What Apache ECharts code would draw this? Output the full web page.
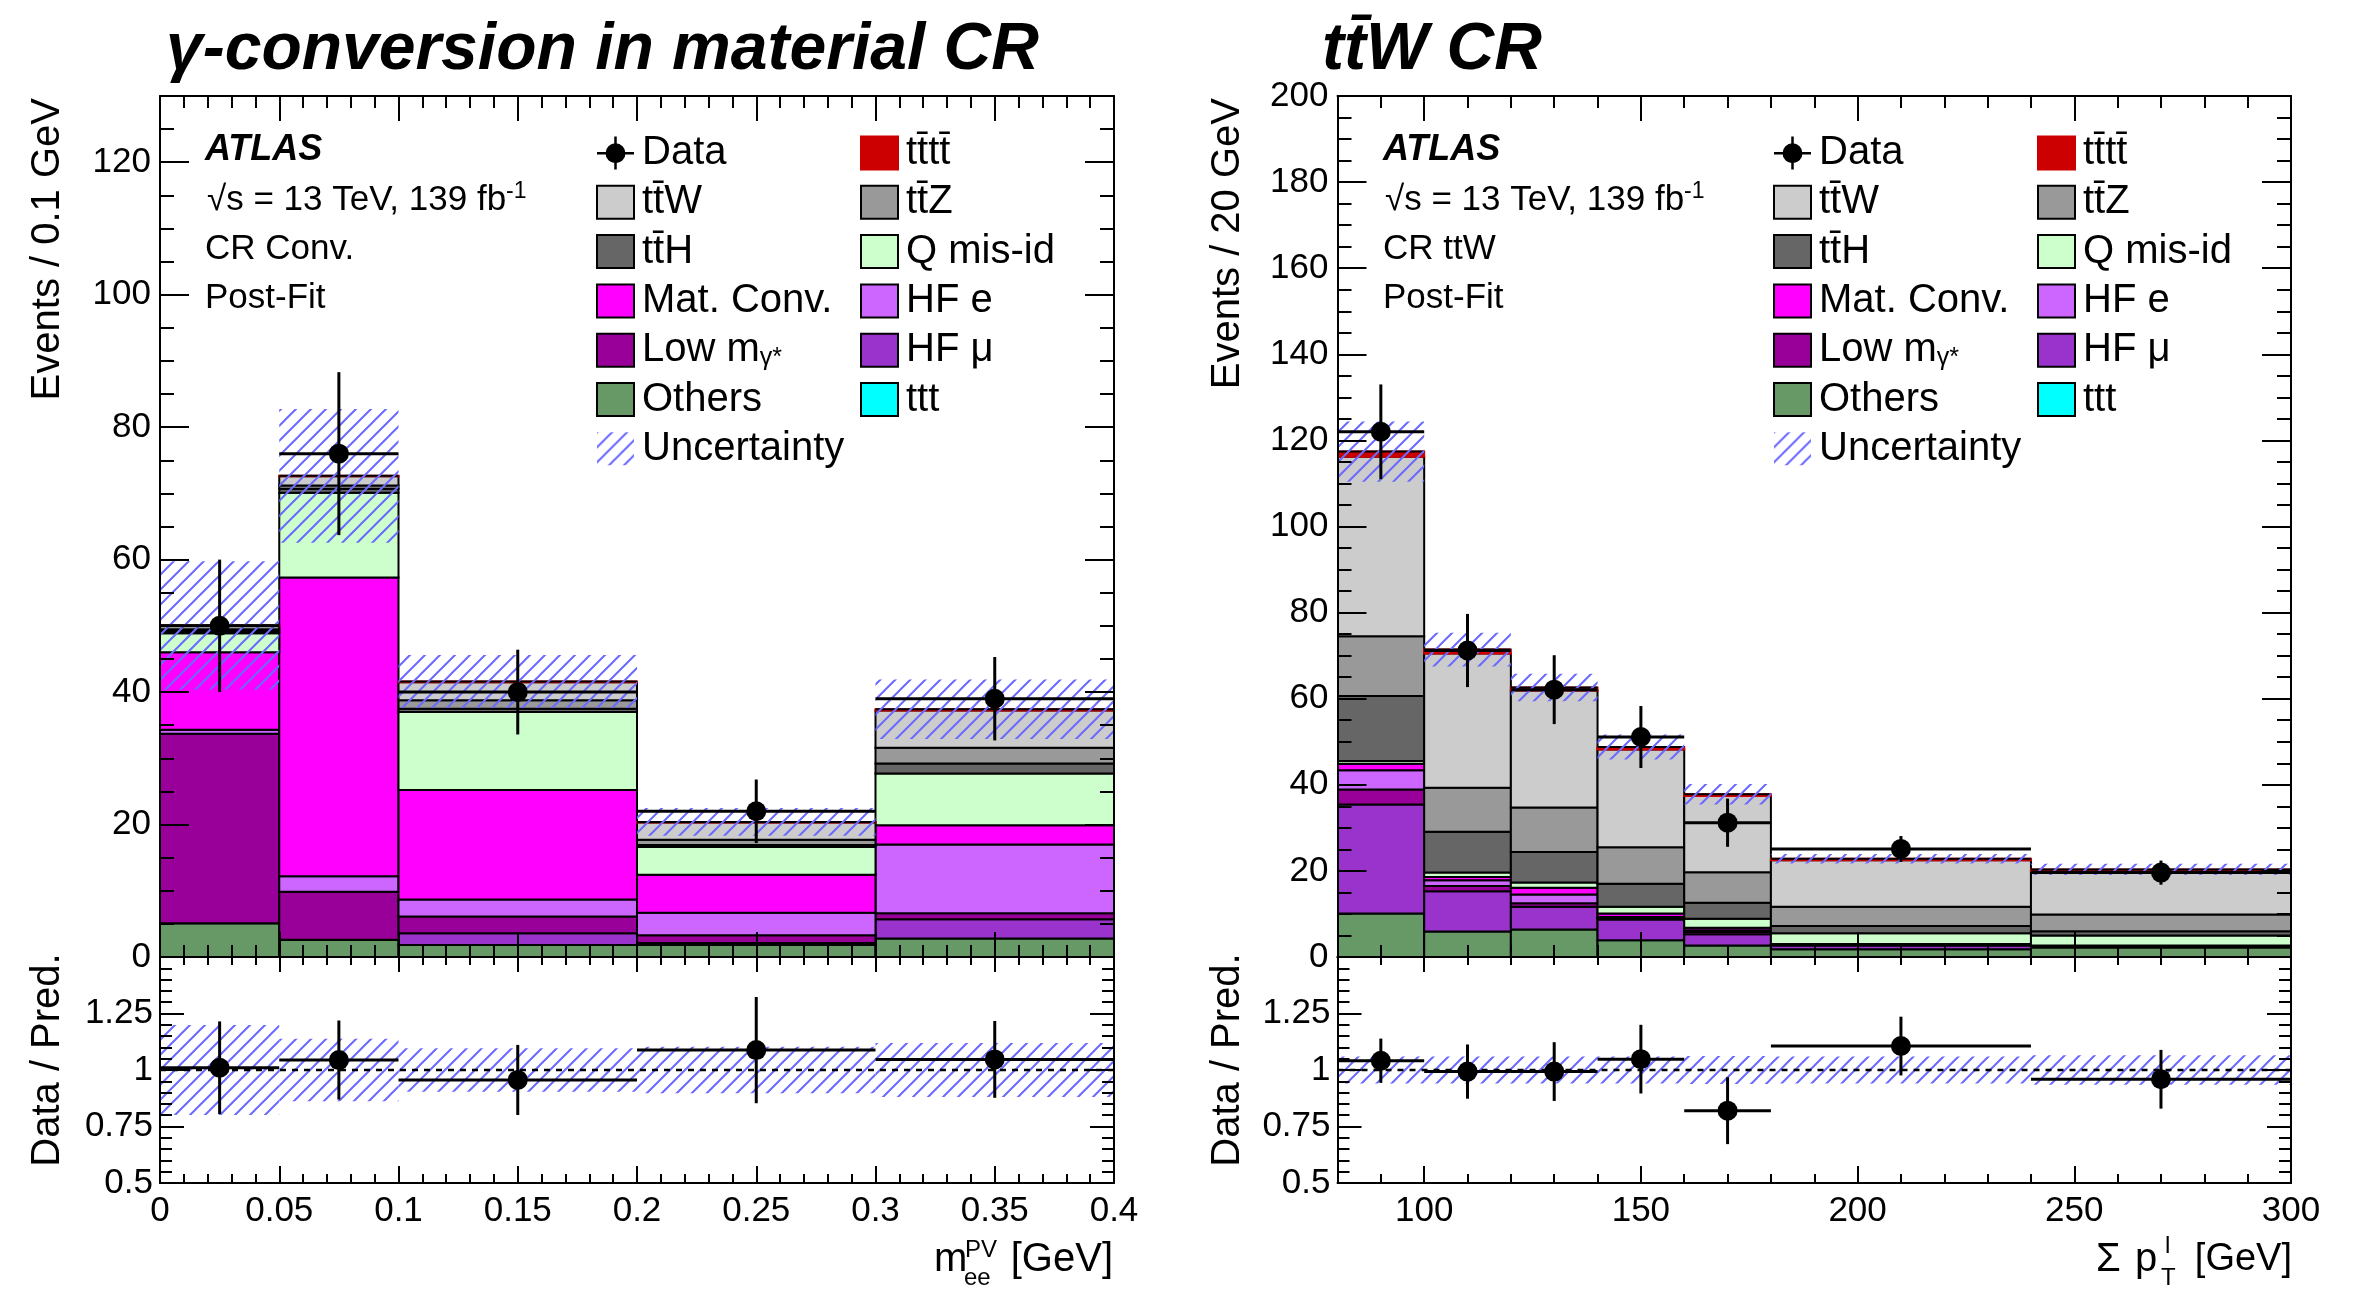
<!DOCTYPE html>
<html><head><meta charset="utf-8">
<script src="https://cdn.jsdelivr.net/npm/echarts@6/dist/echarts.min.js"></script>
<style>html,body{margin:0;padding:0;background:#fff}#c{width:2362px;height:1289px}</style>
</head><body><div id="c"></div>
<script>
// ---------------- DATA ----------------
// Left panel: gamma-conversion in material CR, bins in m_ee^PV [GeV]
const leftEdges = [0, 0.05, 0.1, 0.2, 0.3, 0.4];
const L_others  = [5.1, 2.6, 1.8, 1.8, 2.8];
const L_hfmu    = [0.0, 0.0, 1.8, 0.3, 2.9];
const L_lowm    = [28.6, 7.25, 2.5, 1.2, 0.9];
const L_hfe     = [0.6, 2.35, 2.6, 3.4, 10.4];
const L_matconv = [11.7, 45.1, 16.5, 5.7, 2.9];
const L_qmisid  = [2.9, 12.8, 11.8, 4.2, 7.8];
const L_tth     = [0.3, 0.6, 0.5, 0.3, 1.5];
const L_ttz     = [0.3, 0.5, 1.25, 0.8, 2.4];
const L_ttw     = [0.5, 1.4, 2.75, 2.6, 5.6];
const L_tttt    = [0.05, 0.05, 0.1, 0.1, 0.2];
const L_ttt     = [0, 0, 0, 0, 0];
const L_data    = [50, 76, 40, 22, 39];
const L_dataErr = [10, 12.3, 6.4, 4.8, 6.3];
const L_uncErr  = [9.7, 10.1, 4.0, 2.1, 4.5];
const L_ratio     = [1.01, 1.044, 0.956, 1.088, 1.047];
const L_ratioErr  = [0.205, 0.175, 0.155, 0.235, 0.17];
const L_ratioBand = [0.199, 0.138, 0.096, 0.103, 0.119];

// Right panel: ttW CR, bins in sum pT^l [GeV]
const rightEdges = [80, 100, 120, 140, 160, 180, 240, 300];
const R_others  = [10.1, 5.9, 6.4, 3.9, 2.7, 1.8, 2.2];
const R_hfmu    = [25.3, 9.4, 5.3, 4.8, 2.6, 0.9, 0.2];
const R_lowm    = [3.5, 1.2, 0.8, 0.4, 0.5, 0.1, 0.1];
const R_hfe     = [4.5, 1.3, 2.0, 0.2, 0.4, 0.1, 0.1];
const R_matconv = [1.5, 0.8, 1.6, 0.8, 0.6, 0.1, 0.1];
const R_qmisid  = [0.6, 1.0, 1.2, 1.6, 2.1, 2.5, 2.3];
const R_tth     = [15.1, 9.5, 7.1, 5.3, 3.7, 1.7, 1.0];
const R_ttz     = [13.9, 10.2, 10.3, 8.5, 7.1, 4.5, 3.9];
const R_ttw     = [41.7, 31.2, 27.2, 22.7, 17.7, 10.8, 10.1];
const R_tttt    = [1.2, 0.9, 0.7, 0.6, 0.4, 0.3, 0.35];
const R_ttt     = [0, 0, 0, 0, 0, 0, 0];
const R_data    = [122, 71.2, 62.1, 51.1, 31.2, 25.1, 19.6];
const R_dataErr = [11, 8.5, 8, 7.2, 5.6, 3.0, 2.8];
const R_uncErr  = [7, 3.9, 3.2, 2.9, 2.4, 1.1, 1.3];
const R_ratio     = [1.041, 0.993, 0.993, 1.048, 0.82, 1.106, 0.959];
const R_ratioErr  = [0.098, 0.12, 0.13, 0.152, 0.148, 0.13, 0.13];
const R_ratioBand = [0.06, 0.06, 0.06, 0.06, 0.062, 0.06, 0.065];

// tick labels
const rightXMajor = [100, 150, 200, 250, 300];

// component names (stack order bottom -> top)
const compNames = ['Others', 'HF μ', 'Low mγ*', 'HF e', 'Mat. Conv.', 'Q mis-id',
  'tt\u0304H', 'tt\u0304Z', 'tt\u0304W', 'tt\u0304tt\u0304', 'ttt'];

// ---------------- STYLE ----------------
const compColors = ['#669966', '#9933cc', '#990099', '#cc66ff', '#ff00ff', '#ccffcc',
  '#666666', '#999999', '#cccccc', '#cc0000', '#00ffff'];
const FONT = '"Liberation Sans", Arial, Helvetica, sans-serif';

function makeHatch() {
  const s = 15;
  const c = document.createElement('canvas');
  c.width = s; c.height = s;
  const g = c.getContext('2d');
  g.strokeStyle = '#6a6aff';
  g.lineWidth = 2;
  g.beginPath();
  g.moveTo(-2, s + 2); g.lineTo(s + 2, -2);
  g.moveTo(-2, 2); g.lineTo(2, -2);
  g.moveTo(s - 2, s + 2); g.lineTo(s + 2, s - 2);
  g.stroke();
  return c;
}
const hatch = { image: makeHatch(), repeat: 'repeat' };

function rectFrom(api, x0, x1, y0, y1) {
  const p0 = api.coord([x0, y1]);
  const p1 = api.coord([x1, y0]);
  return { x: p0[0], y: p0[1], width: p1[0] - p0[0], height: p1[1] - p0[1] };
}

function stackSeries(edges, comps, xi, yi) {
  const base = edges.slice(0, -1).map(() => 0);
  return comps.map((vals, k) => {
    const data = vals.map((v, i) => { const b = base[i]; base[i] += v; return [edges[i], edges[i + 1], b, b + v]; });
    const stroke = k === 9 ? '#cc0000' : '#000';
    return {
      type: 'custom', name: compNames[k], xAxisIndex: xi, yAxisIndex: yi, z: 2, clip: true,
      itemStyle: { color: compColors[k], borderColor: stroke, borderWidth: 2 },
      encode: { x: [0, 1], y: [2, 3] }, data,
      renderItem: (params, api) => ({
        type: 'rect',
        shape: rectFrom(api, api.value(0), api.value(1), api.value(2), api.value(3)),
        style: { fill: compColors[k], stroke: stroke, lineWidth: 2 }
      })
    };
  });
}

function totalsOf(comps) {
  return comps[0].map((_, i) => comps.reduce((s, c) => s + c[i], 0));
}

function bandSeries(name, edges, centers, errs, xi, yi) {
  return {
    type: 'custom', name, xAxisIndex: xi, yAxisIndex: yi, z: 3, clip: true,
    itemStyle: { color: hatch },
    encode: { x: [0, 1], y: [2, 3] },
    data: centers.map((c, i) => [edges[i], edges[i + 1], c - errs[i], c + errs[i]]),
    renderItem: (params, api) => ({
      type: 'rect',
      shape: rectFrom(api, api.value(0), api.value(1), api.value(2), api.value(3)),
      style: { fill: hatch, stroke: null }
    })
  };
}

function pointSeries(name, edges, vals, errs, xi, yi) {
  return {
    type: 'custom', name, xAxisIndex: xi, yAxisIndex: yi, z: 5, clip: true,
    itemStyle: { color: '#000' },
    encode: { x: [0, 1], y: [2] },
    data: vals.map((v, i) => [edges[i], edges[i + 1], v, errs[i]]),
    renderItem: (params, api) => {
      const x0 = api.value(0), x1 = api.value(1), v = api.value(2), e = api.value(3);
      const xc = (x0 + x1) / 2;
      const pl = api.coord([x0, v]), pr = api.coord([x1, v]);
      const pc = api.coord([xc, v]), pt = api.coord([xc, v + e]), pb = api.coord([xc, v - e]);
      const ls = { stroke: '#000', lineWidth: 3 };
      return {
        type: 'group', children: [
          { type: 'line', shape: { x1: pl[0], y1: pl[1], x2: pr[0], y2: pr[1] }, style: ls },
          { type: 'line', shape: { x1: pt[0], y1: pt[1], x2: pb[0], y2: pb[1] }, style: ls },
          { type: 'circle', shape: { cx: pc[0], cy: pc[1], r: 10 }, style: { fill: '#000' } }
        ]
      };
    }
  };
}

function unitySeries(xmin, xmax, xi, yi) {
  return {
    type: 'line', name: 'unity', xAxisIndex: xi, yAxisIndex: yi, z: 4, symbol: 'none', silent: true,
    data: [[xmin, 1], [xmax, 1]],
    lineStyle: { color: '#000', width: 2.5, type: [6, 6] }
  };
}

const leftComps = [L_others, L_hfmu, L_lowm, L_hfe, L_matconv, L_qmisid, L_tth, L_ttz, L_ttw, L_tttt, L_ttt];
const rightComps = [R_others, R_hfmu, R_lowm, R_hfe, R_matconv, R_qmisid, R_tth, R_ttz, R_ttw, R_tttt, R_ttt];
const L_total = totalsOf(leftComps);
const R_total = totalsOf(rightComps);
const ones = n => Array.from({ length: n }, () => 1);

// ---------------- AXES ----------------
const axLine = { show: true, onZero: false, lineStyle: { color: '#000', width: 2 } };
const noLine = { show: false, onZero: false };
const tk = len => ({ show: true, inside: true, length: len, lineStyle: { color: '#000', width: 2 } });
const mtk = (n, len) => ({ show: true, splitNumber: n, length: len, lineStyle: { color: '#000', width: 2 } });
const lbl = { fontFamily: FONT, fontSize: 35, color: '#000' };
const noLbl = { show: false };
const noSplit = { show: false };

function X(grid, pos, min, max, extra) {
  return Object.assign({ type: 'value', gridIndex: grid, position: pos, min, max, z: 10,
    axisLine: axLine, splitLine: noSplit, axisLabel: noLbl }, extra);
}
function Y(grid, pos, min, max, extra) {
  return Object.assign({ type: 'value', gridIndex: grid, position: pos, min, max, z: 10,
    axisLine: axLine, splitLine: noSplit, axisLabel: noLbl }, extra);
}
const fmt = v => String(parseFloat((+v).toFixed(3)));

const xAxis = [
  // left main
  X(0, 'bottom', 0, 0.4, { interval: 0.05, axisTick: tk(25), minorTick: mtk(5, 12) }),
  X(0, 'top', 0, 0.4, { interval: 0.05, axisTick: tk(25), minorTick: mtk(5, 12) }),
  // left ratio
  X(1, 'bottom', 0, 0.4, { interval: 0.05, axisTick: tk(17), minorTick: mtk(5, 9),
    axisLabel: Object.assign({ show: true, margin: 11, formatter: fmt }, lbl) }),
  X(1, 'top', 0, 0.4, { interval: 0.05, axisTick: tk(15), minorTick: mtk(5, 8) }),
  // right main
  X(2, 'bottom', 80, 300, { interval: 10, axisTick: tk(12) }),
  X(2, 'bottom', 80, 300, { axisLine: noLine, axisTick: Object.assign(tk(25), { customValues: rightXMajor }) }),
  X(2, 'top', 80, 300, { interval: 10, axisTick: tk(12) }),
  X(2, 'top', 80, 300, { axisLine: noLine, axisTick: Object.assign(tk(25), { customValues: rightXMajor }) }),
  // right ratio
  X(3, 'bottom', 80, 300, { interval: 10, axisTick: tk(9) }),
  X(3, 'bottom', 80, 300, { axisLine: noLine, axisTick: Object.assign(tk(17), { customValues: rightXMajor }),
    axisLabel: Object.assign({ show: true, margin: 11, customValues: rightXMajor }, lbl) }),
  X(3, 'top', 80, 300, { interval: 10, axisTick: tk(8) }),
  X(3, 'top', 80, 300, { axisLine: noLine, axisTick: Object.assign(tk(15), { customValues: rightXMajor }) })
];

const yAxis = [
  Y(0, 'left', 0, 130, { interval: 20, axisTick: tk(29), minorTick: mtk(4, 14),
    axisLabel: Object.assign({ show: true, margin: 9, showMaxLabel: false }, lbl) }),
  Y(0, 'right', 0, 130, { interval: 20, axisTick: tk(29), minorTick: mtk(4, 14) }),
  Y(1, 'left', 0.5, 1.5, { interval: 0.25, axisTick: tk(24), minorTick: mtk(5, 12),
    axisLabel: Object.assign({ show: true, margin: 7, showMaxLabel: false, formatter: fmt }, lbl) }),
  Y(1, 'right', 0.5, 1.5, { interval: 0.25, axisTick: tk(24), minorTick: mtk(5, 12) }),
  Y(2, 'left', 0, 200, { interval: 20, axisTick: tk(29), minorTick: mtk(4, 14),
    axisLabel: Object.assign({ show: true, margin: 9 }, lbl) }),
  Y(2, 'right', 0, 200, { interval: 20, axisTick: tk(29), minorTick: mtk(4, 14) }),
  Y(3, 'left', 0.5, 1.5, { interval: 0.25, axisTick: tk(24), minorTick: mtk(5, 12),
    axisLabel: Object.assign({ show: true, margin: 7, showMaxLabel: false, formatter: fmt }, lbl) }),
  Y(3, 'right', 0.5, 1.5, { interval: 0.25, axisTick: tk(24), minorTick: mtk(5, 12) })
];

// ---------------- SERIES ----------------
const series = [].concat(
  stackSeries(leftEdges, leftComps, 0, 0),
  [bandSeries('Uncertainty', leftEdges, L_total, L_uncErr, 0, 0),
   pointSeries('Data', leftEdges, L_data, L_dataErr, 0, 0),
   bandSeries('ratioBandL', leftEdges, ones(L_ratioBand.length), L_ratioBand, 2, 2),
   unitySeries(0, 0.4, 2, 2),
   pointSeries('ratioL', leftEdges, L_ratio, L_ratioErr, 2, 2)],
  stackSeries(rightEdges, rightComps, 4, 4),
  [bandSeries('Uncertainty', rightEdges, R_total, R_uncErr, 4, 4),
   pointSeries('Data', rightEdges, R_data, R_dataErr, 4, 4),
   bandSeries('ratioBandR', rightEdges, ones(R_ratioBand.length), R_ratioBand, 8, 6),
   unitySeries(80, 300, 8, 6),
   pointSeries('ratioR', rightEdges, R_ratio, R_ratioErr, 8, 6)]
);

// ---------------- LEGENDS ----------------
const dataIcon = 'path://M0,15.5h37v2.5h-37z M17.25,0h2.5v33h-2.5z M8.5,16.75a10,10 0 1,1 20,0a10,10 0 1,1 -20,0z';
const col1 = [
  { name: 'Data', icon: dataIcon, itemStyle: { color: '#000', borderWidth: 0 } },
  { name: compNames[8] }, { name: compNames[6] }, { name: compNames[4] },
  { name: compNames[2] }, { name: compNames[0] },
  { name: 'Uncertainty', itemStyle: { color: hatch, borderWidth: 0 } }
];
const col2 = [
  { name: compNames[9], itemStyle: { borderColor: '#cc0000' } },
  { name: compNames[7] }, { name: compNames[5] }, { name: compNames[3] },
  { name: compNames[1] }, { name: compNames[10] }
];
function legend(left, data) {
  return {
    left, top: 133, orient: 'vertical', itemWidth: 37, itemHeight: 33, itemGap: 9.3, padding: 0,
    selectedMode: false, icon: 'rect',
    itemStyle: { borderColor: '#000', borderWidth: 2 },
    textStyle: {
      fontFamily: FONT, fontSize: 40, lineHeight: 40, color: '#000', padding: [0, 0, 0, 3],
      rich: {
        a: { fontFamily: FONT, fontSize: 40, lineHeight: 40, color: '#000' },
        b: { fontFamily: FONT, fontSize: 25, lineHeight: 25, color: '#000', verticalAlign: 'bottom' }
      }
    },
    formatter: n => n === 'Low mγ*' ? '{a|Low m}{b|γ*}' : n,
    data
  };
}

// ---------------- TEXT ----------------
function T(x, y, text, size, extra, rotation) {
  const el = { type: 'text', x, y, z: 20,
    style: Object.assign({ text, fill: '#000', fontSize: size, fontFamily: FONT,
      align: 'left', verticalAlign: 'middle', textAlign: 'left', textVerticalAlign: 'middle' }, extra || {}) };
  if (rotation) el.rotation = rotation;
  return el;
}
const BI = { fontWeight: 'bold', fontStyle: 'italic' };
const R = { align: 'right', textAlign: 'right' };
const C = { align: 'center', textAlign: 'center' };
function sqrtS(x) {
  return { type: 'text', x, y: 200, z: 20, style: {
    text: '{a|√s = 13 TeV, 139 fb}{b|-1}', verticalAlign: 'middle', textVerticalAlign: 'middle',
    rich: {
      a: { fontFamily: FONT, fontSize: 35, lineHeight: 40, fill: '#000', color: '#000' },
      b: { fontFamily: FONT, fontSize: 23, lineHeight: 23, fill: '#000', color: '#000', verticalAlign: 'top' }
    } } };
}
const graphic = [
  T(166, 51, 'γ-conversion in material CR', 66, BI),
  T(1322, 51, 'tt\u0304W CR', 66, BI),
  T(205, 150, 'ATLAS', 36, BI), sqrtS(207), T(205, 249, 'CR Conv.', 35), T(205, 298, 'Post-Fit', 35),
  T(1383, 150, 'ATLAS', 36, BI), sqrtS(1385), T(1383, 249, 'CR ttW', 35), T(1383, 298, 'Post-Fit', 35),
  T(48, 98, 'Events / 0.1 GeV', 40, R, Math.PI / 2),
  T(48, 1060, 'Data / Pred.', 40, C, Math.PI / 2),
  T(1228, 98, 'Events / 20 GeV', 40, R, Math.PI / 2),
  T(1228, 1060, 'Data / Pred.', 40, C, Math.PI / 2),
  T(934, 1260, 'm', 40), T(965, 1250, 'PV', 24), T(964, 1278, 'ee', 24), T(1113, 1260, '[GeV]', 40, R),
  T(2096, 1260, 'Σ', 40), T(2135, 1260, 'p', 40), T(2161, 1278, 'T', 24), T(2165, 1246, 'l', 24),
  T(2292, 1260, '[GeV]', 38, R)
];

const chart = echarts.init(document.getElementById('c'), null, { renderer: 'canvas' });
chart.setOption({
  animation: false,
  backgroundColor: '#fff',
  textStyle: { fontFamily: FONT },
  grid: [
    { left: 160, top: 96, width: 954, height: 861 },
    { left: 160, top: 957, width: 954, height: 226 },
    { left: 1337.5, top: 96, width: 953.5, height: 861 },
    { left: 1337.5, top: 957, width: 953.5, height: 226 }
  ],
  xAxis, yAxis, series,
  legend: [legend(596, col1), legend(860, col2), legend(1773, col1), legend(2037, col2)],
  graphic
});
</script></body></html>
